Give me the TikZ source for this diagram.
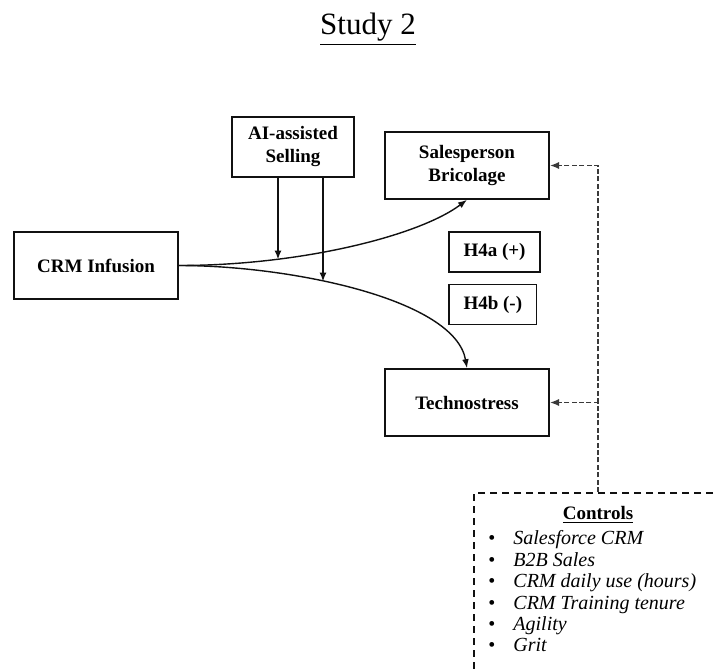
\documentclass[tikz,border=0pt]{standalone}
\usepackage{fontspec}
\setmainfont{Liberation Serif}
\usepackage{xcolor}
\usepackage{tikz}
\usetikzlibrary{arrows.meta,positioning}
\definecolor{InkBlack}{HTML}{111111}
\definecolor{DashGray}{HTML}{3A3A3A}
\tikzset{
  box/.style={draw=InkBlack,line width=0.8pt,align=center,minimum width=82pt,
              minimum height=33.5pt,inner sep=2pt,font=\fontsize{9.5}{11.5}\selectfont\bfseries},
  aibox/.style={box,minimum width=61pt,minimum height=30pt},
  hypbox/.style={draw=InkBlack,line width=0.8pt,minimum height=20pt,inner xsep=7.3pt,
              font=\fontsize{9.5}{11.5}\selectfont\bfseries},
  ctrlbox/.style={draw=InkBlack,line width=1pt,dash pattern=on 3.5pt off 2.5pt,
              minimum width=124pt,minimum height=93.5pt},
  flow/.style={-{Latex[length=4.5pt,width=3.4pt]},line width=0.7pt,draw=InkBlack},
  modflow/.style={-{Latex[length=4.5pt,width=3.6pt]},line width=1pt,draw=InkBlack},
  ctrlflow/.style={-{Latex[length=4.6pt,width=3.6pt]},line width=0.9pt,draw=DashGray,
              dash pattern=on 2.5pt off 1.2pt},
  note/.style={font=\fontsize{10}{10.7}\selectfont,inner sep=0pt}
}
\begin{document}
\begin{tikzpicture}[x=0.5pt,y=-0.5pt]
  \useasboundingbox (0,0) rectangle (715,668);
  \node[anchor=base,font=\fontsize{15.5}{18}\selectfont] (title) at (368,35) {\underline{Study 2}};

  \node[box] (crm) at (96,265.5) {CRM Infusion};
  \node[aibox] (ai) at (293,147) {AI-assisted\\Selling};
  \node[box] (sales) at (467,165.5) {Salesperson\\Bricolage};
  \node[hypbox] (h4a) at (494.5,252) {H4a (+)};
  \node[hypbox,below=5.5pt of h4a.south west,anchor=north west] (h4b) {H4b (-)};
  \node[box] (techno) at (467,402.5) {Technostress};

  \node[ctrlbox] (ctrl) at (598,586.5) {};
  \node[note,anchor=base,font=\fontsize{9.5}{11}\selectfont\bfseries] (ctrlhead) at (598,519) {\underline{Controls}};
  \node[note,anchor=north west] (ctrllist) at (488,529.5) {%
    \begin{tabular}{@{}l@{\hspace{9pt}}l@{}}
      \textbullet & \textit{Salesforce CRM}\\
      \textbullet & \textit{B2B Sales}\\
      \textbullet & \textit{CRM daily use (hours)}\\
      \textbullet & \textit{CRM Training tenure}\\
      \textbullet & \textit{Agility}\\
      \textbullet & \textit{Grit}
    \end{tabular}};

  \coordinate (tipA) at (278,259.5);
  \coordinate (tipB) at (323,281.5);

  \draw[flow] (crm.east) .. controls +(122,0) and +(-48,36) .. (sales.south);
  \draw[flow] (crm.east) .. controls +(112,0) and +(-12,-69) .. (techno.north);
  \draw[modflow] (ai.south -| tipA) -- (tipA);
  \draw[modflow] (ai.south -| tipB) -- (tipB);
  \draw[ctrlflow] (ctrl.north) |- (sales.east);
  \draw[ctrlflow] (ctrl.north) |- (techno.east);
\end{tikzpicture}
\end{document}
